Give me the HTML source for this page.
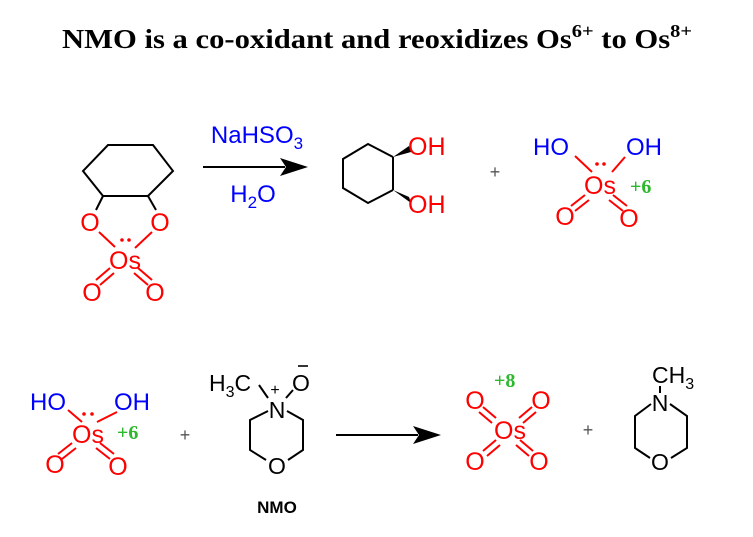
<!DOCTYPE html>
<html><head><meta charset="utf-8"><style>
html,body{margin:0;padding:0;background:#fff;}
svg{display:block;}
text{font-family:"Liberation Sans",Arial,sans-serif;}
.r{fill:#f00;font-size:25px;}
.b{fill:#00f;font-size:24px;}
.k{fill:#000;font-size:23px;}
.g{fill:#2db82d;font-size:20px;font-weight:bold;font-family:"Liberation Serif",serif;}
</style></head><body>
<svg width="753" height="537" viewBox="0 0 753 537" xmlns="http://www.w3.org/2000/svg">
<text x="62" y="48" style="font-family:'Liberation Serif',serif;font-weight:bold;font-size:27px" textLength="630" lengthAdjust="spacingAndGlyphs">NMO is a co-oxidant and reoxidizes Os<tspan dy="-11" style="font-size:18px">6+</tspan><tspan dy="11"> to Os</tspan><tspan dy="-11" style="font-size:18px">8+</tspan></text>

<!-- top-left osmate ester -->
<g stroke="#000" stroke-width="2" fill="none">
<polyline points="103,196 83,171 108,145 153,145 173,171 148,196 103,196"/>
<line x1="103" y1="196" x2="96" y2="210"/>
<line x1="148" y1="196" x2="156" y2="210"/>
</g>
<g stroke="#f00" stroke-width="2">
<line x1="99" y1="232" x2="115" y2="247"/>
<line x1="152" y1="232" x2="135" y2="248"/>
<line x1="110" y1="268" x2="96" y2="280"/><line x1="114" y1="273" x2="100" y2="285"/>
<line x1="138" y1="268" x2="152" y2="280"/><line x1="134" y1="273" x2="148" y2="285"/>
</g>
<text class="r" x="90" y="231" text-anchor="middle">O</text>
<text class="r" x="160" y="231" text-anchor="middle">O</text>
<text class="r" x="125" y="269" text-anchor="middle">Os</text>
<circle cx="122" cy="240" r="1.8" fill="#f00"/><circle cx="129" cy="240" r="1.8" fill="#f00"/>
<text class="r" x="92" y="301" text-anchor="middle">O</text>
<text class="r" x="155" y="301" text-anchor="middle">O</text>

<!-- arrow 1 -->
<line x1="203" y1="167" x2="285" y2="167" stroke="#000" stroke-width="2"/>
<polygon points="308,167 280,158 286,167 280,176" fill="#000"/>
<text class="b" x="257" y="143" text-anchor="middle">NaHSO<tspan dy="6" style="font-size:17px">3</tspan></text>
<text class="b" x="253" y="202" text-anchor="middle">H<tspan dy="6" style="font-size:17px">2</tspan><tspan dy="-6">O</tspan></text>

<!-- diol -->
<g stroke="#000" stroke-width="2" fill="none">
<polyline points="393,157 368,144 343,159 343,188 368,203 393,190"/>
<line x1="393" y1="157" x2="393" y2="190"/>
</g>
<polygon points="393,157 409,146 411,152" fill="#000"/>
<polygon points="393,190 409,197 411,203" fill="#000"/>
<text class="r" x="408" y="155">OH</text>
<text class="r" x="408" y="213">OH</text>

<text x="495" y="178" text-anchor="middle" style="font-size:18px" fill="#555">+</text>

<!-- top-right osmate -->
<g stroke="#f00" stroke-width="2">
<line x1="575" y1="156" x2="592" y2="172"/>
<line x1="625" y1="157" x2="612" y2="172"/>
<line x1="585" y1="195" x2="571" y2="206"/><line x1="589" y1="200" x2="575" y2="211"/>
<line x1="613" y1="195" x2="627" y2="206"/><line x1="609" y1="200" x2="623" y2="211"/>
</g>
<text class="b" x="533" y="155">HO</text>
<text class="b" x="626" y="155">OH</text>
<circle cx="597" cy="164" r="1.8" fill="#f00"/><circle cx="604" cy="164" r="1.8" fill="#f00"/>
<text class="r" x="600" y="194" text-anchor="middle">Os</text>
<text class="g" x="630" y="193">+6</text>
<text class="r" x="565" y="225" text-anchor="middle">O</text>
<text class="r" x="629" y="227" text-anchor="middle">O</text>

<!-- bottom-left osmate -->
<g stroke="#f00" stroke-width="2">
<line x1="68" y1="410" x2="82" y2="422"/>
<line x1="117" y1="412" x2="97" y2="422"/>
<line x1="72" y1="443" x2="58" y2="454"/><line x1="76" y1="448" x2="62" y2="459"/>
<line x1="100" y1="443" x2="114" y2="454"/><line x1="96" y1="448" x2="110" y2="459"/>
</g>
<text class="b" x="30" y="410">HO</text>
<text class="b" x="114" y="410">OH</text>
<circle cx="84" cy="414" r="1.8" fill="#f00"/><circle cx="92" cy="414" r="1.8" fill="#f00"/>
<text class="r" x="88" y="443" text-anchor="middle">Os</text>
<text class="g" x="117" y="439">+6</text>
<text class="r" x="55" y="473" text-anchor="middle">O</text>
<text class="r" x="118" y="475" text-anchor="middle">O</text>

<text x="185" y="441" text-anchor="middle" style="font-size:18px" fill="#555">+</text>

<!-- NMO -->
<text class="k" x="209" y="391">H<tspan dy="6" style="font-size:16px">3</tspan><tspan dy="-6">C</tspan></text>
<text class="k" x="292" y="391">O</text>
<line x1="298" y1="366" x2="308" y2="366" stroke="#000" stroke-width="1.6"/>
<text class="k" x="277" y="418" text-anchor="middle">N</text>
<text class="k" x="275" y="395" text-anchor="middle" style="font-size:16px">+</text>
<g stroke="#000" stroke-width="2" fill="none">
<line x1="259" y1="385" x2="268" y2="398"/>
<line x1="286" y1="398" x2="293" y2="390"/>
<polyline points="268,411 250,420 250,450 266,460"/>
<polyline points="287,411 303,420 303,450 288,460"/>
</g>
<text class="k" x="277" y="474" text-anchor="middle">O</text>
<text x="277" y="513" text-anchor="middle" style="font-size:17px;font-weight:bold">NMO</text>

<!-- arrow 2 -->
<line x1="336" y1="435" x2="418" y2="435" stroke="#000" stroke-width="2"/>
<polygon points="441,435 413,426 419,435 413,444" fill="#000"/>

<!-- OsO4 -->
<text class="g" x="494" y="387">+8</text>
<g stroke="#f00" stroke-width="2">
<line x1="483" y1="407" x2="496" y2="418"/><line x1="479" y1="412" x2="492" y2="423"/>
<line x1="532" y1="407" x2="519" y2="418"/><line x1="536" y1="412" x2="523" y2="423"/>
<line x1="496" y1="440" x2="483" y2="451"/><line x1="500" y1="445" x2="487" y2="456"/>
<line x1="520" y1="440" x2="533" y2="451"/><line x1="516" y1="445" x2="529" y2="456"/>
</g>
<text class="r" x="475" y="409" text-anchor="middle">O</text>
<text class="r" x="541" y="409" text-anchor="middle">O</text>
<text class="r" x="510" y="439" text-anchor="middle">Os</text>
<text class="r" x="475" y="470" text-anchor="middle">O</text>
<text class="r" x="539" y="470" text-anchor="middle">O</text>

<text x="588" y="436" text-anchor="middle" style="font-size:18px" fill="#555">+</text>

<!-- NMM -->
<text class="k" x="652" y="383">CH<tspan dy="6" style="font-size:16px">3</tspan></text>
<text class="k" x="660" y="411" text-anchor="middle">N</text>
<g stroke="#000" stroke-width="2" fill="none">
<line x1="660" y1="386" x2="660" y2="393"/>
<polyline points="651,404 635,416 635,448 650,458"/>
<polyline points="670,404 687,416 687,448 671,458"/>
</g>
<text class="k" x="660" y="470" text-anchor="middle">O</text>
</svg>
</body></html>
